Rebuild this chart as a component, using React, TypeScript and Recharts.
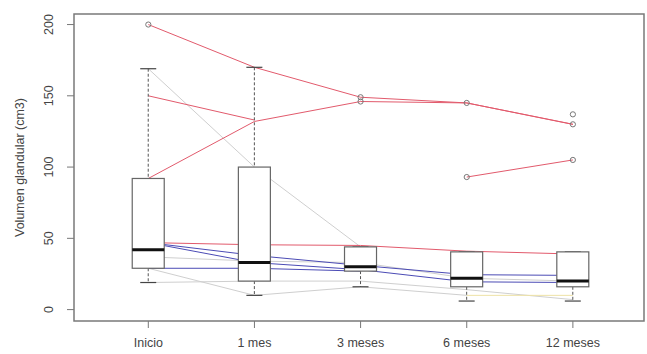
import { ComposedChart, Bar, Line, XAxis, YAxis, ReferenceArea } from 'recharts';

// time points
const categories = ['Inicio', '1 mes', '3 meses', '6 meses', '12 meses'];
const positions = [1, 2, 3, 4, 5];
const yTicks = [0, 50, 100, 150, 200];
const xDomain = [0.3, 5.67];
const yDomain = [-8, 207.4];

// box statistics per time point
const whiskerLow = [19, 10, 16, 6, 6];
const lowerQuartile = [29, 20, 27, 16, 16];
const median = [42, 33, 30, 22, 20];
const upperQuartile = [92, 100, 44, 40.5, 40.5];
const whiskerHigh = [169, 170, 44, 40.5, 40.5];

// outliers (up to three per time point)
const outlierA = [200, null, 149, 145, 137];
const outlierB = [null, null, 146, 93, 130];
const outlierC = [null, null, null, null, 105];

// individual patient trajectories
const redPatients = [
  [200, 170, 149, 145, 130],
  [150, 133, null, null, null],
  [92, 132, 146, 145, 130],
  [null, null, null, 93, 105],
  [47, 45.5, 45, 41, 39],
];
const bluePatients = [
  [47, 38, 31, 24.5, 24],
  [47, 33, 28, 19.5, 19],
  [29, 29, 27, null, null],
];
const grayPatients = [
  [169, 100, 44, null, null],
  [29, 10, 16, 10, null],
  [19, 20, 20, 14, 7],
  [37, 34, 33, 22, 20],
];
const yellowPatients = [[null, null, null, 10, 10]];

const rows = categories.map((name, i) => {
  const row: Record<string, any> = {
    pos: positions[i],
    name,
    box: [lowerQuartile[i], upperQuartile[i]],
    lo: whiskerLow[i],
    q1: lowerQuartile[i],
    med: median[i],
    q3: upperQuartile[i],
    hi: whiskerHigh[i],
    oa: outlierA[i],
    ob: outlierB[i],
    oc: outlierC[i],
  };
  redPatients.forEach((p, k) => (row[`r${k}`] = p[i]));
  bluePatients.forEach((p, k) => (row[`b${k}`] = p[i]));
  grayPatients.forEach((p, k) => (row[`g${k}`] = p[i]));
  yellowPatients.forEach((p, k) => (row[`y${k}`] = p[i]));
  return row;
});

const font = '"Liberation Sans", Arial, sans-serif';
const textColor = '#444';
const fontSize = 12.5;

function BoxShape(props: any) {
  const { x, y, width, height, payload } = props;
  if (!payload) return null;
  const toPx = (v: number) => y + ((payload.q3 - v) / (payload.q3 - payload.q1)) * height;
  const cx = x + width / 2;
  const half = width / 4;
  const top = toPx(payload.hi);
  const bottom = toPx(payload.lo);
  const m = toPx(payload.med);
  return (
    <g>
      <line x1={cx} x2={cx} y1={top} y2={y} stroke="#555" strokeDasharray="3 2" />
      <line x1={cx} x2={cx} y1={y + height} y2={bottom} stroke="#555" strokeDasharray="3 2" />
      <line x1={cx - half} x2={cx + half} y1={top} y2={top} stroke="#444" strokeWidth={1.2} />
      <line x1={cx - half} x2={cx + half} y1={bottom} y2={bottom} stroke="#444" strokeWidth={1.2} />
      <rect x={x} y={y} width={width} height={height} fill="#fff" stroke="#666" strokeWidth={1.2} />
      <line x1={x} x2={x + width} y1={m} y2={m} stroke="#111" strokeWidth={3} />
    </g>
  );
}

function YTick(props: any) {
  const { x, y, payload } = props;
  const bx = x - 14;
  return (
    <text
      x={bx}
      y={y}
      transform={`rotate(-90, ${bx}, ${y})`}
      textAnchor="middle"
      fontSize={fontSize}
      fontFamily={font}
      fill={textColor}
    >
      {payload.value}
    </text>
  );
}

function YLabel(props: any) {
  const { viewBox } = props;
  const lx = 24;
  const ly = viewBox.y + viewBox.height / 2;
  return (
    <text
      x={lx}
      y={ly}
      transform={`rotate(-90, ${lx}, ${ly})`}
      textAnchor="middle"
      fontSize={fontSize}
      fontFamily={font}
      fill={textColor}
    >
      Volumen glandular (cm3)
    </text>
  );
}

const lineProps = {
  type: 'linear' as const,
  dot: false,
  activeDot: false,
  connectNulls: false,
  isAnimationActive: false,
  zIndex: 350,
};

export default function App() {
  return (
    <div style={{ position: 'absolute', left: 0, top: 0, background: '#fff' }}>
      <ComposedChart
        width={647}
        height={354}
        data={rows}
        margin={{ top: 14, right: 3, bottom: 0, left: 0 }}
      >
        <XAxis
          dataKey="pos"
          type="number"
          domain={xDomain}
          ticks={positions}
          allowDataOverflow
          tickFormatter={(v: number) => categories[v - 1] ?? ''}
          axisLine={false}
          tickSize={7}
          tickMargin={10}
          height={33}
          tickLine={{ stroke: '#777' }}
          tick={{ fontSize, fontFamily: font, fill: textColor }}
        />
        <YAxis
          type="number"
          domain={yDomain}
          ticks={yTicks}
          allowDataOverflow
          axisLine={false}
          tickSize={7}
          tickMargin={0}
          width={74}
          tickLine={{ stroke: '#777' }}
          tick={<YTick />}
          label={<YLabel />}
        />
        {grayPatients.map((_, k) => (
          <Line key={`g${k}`} dataKey={`g${k}`} stroke="#cfcfcf" strokeWidth={1} {...lineProps} />
        ))}
        {yellowPatients.map((_, k) => (
          <Line key={`y${k}`} dataKey={`y${k}`} stroke="#eee2a6" strokeWidth={1} {...lineProps} />
        ))}
        {bluePatients.map((_, k) => (
          <Line key={`b${k}`} dataKey={`b${k}`} stroke="#4b4bb5" strokeWidth={1} {...lineProps} />
        ))}
        {redPatients.map((_, k) => (
          <Line key={`r${k}`} dataKey={`r${k}`} stroke="#e25a6c" strokeWidth={1} {...lineProps} />
        ))}
        <Bar dataKey="box" barSize={32} shape={<BoxShape />} isAnimationActive={false} zIndex={450} />
        {['oa', 'ob', 'oc'].map((key) => (
          <Line
            key={key}
            dataKey={key}
            stroke="none"
            dot={{ r: 2.6, stroke: '#777', strokeWidth: 1, fill: 'none' }}
            activeDot={false}
            isAnimationActive={false}
            zIndex={500}
          />
        ))}
        <ReferenceArea
          x1={xDomain[0]}
          x2={xDomain[1]}
          y1={yDomain[0]}
          y2={yDomain[1]}
          fill="none"
          stroke="#7a7a7a"
          strokeWidth={1.5}
          ifOverflow="visible"
          zIndex={600}
        />
      </ComposedChart>
    </div>
  );
}
